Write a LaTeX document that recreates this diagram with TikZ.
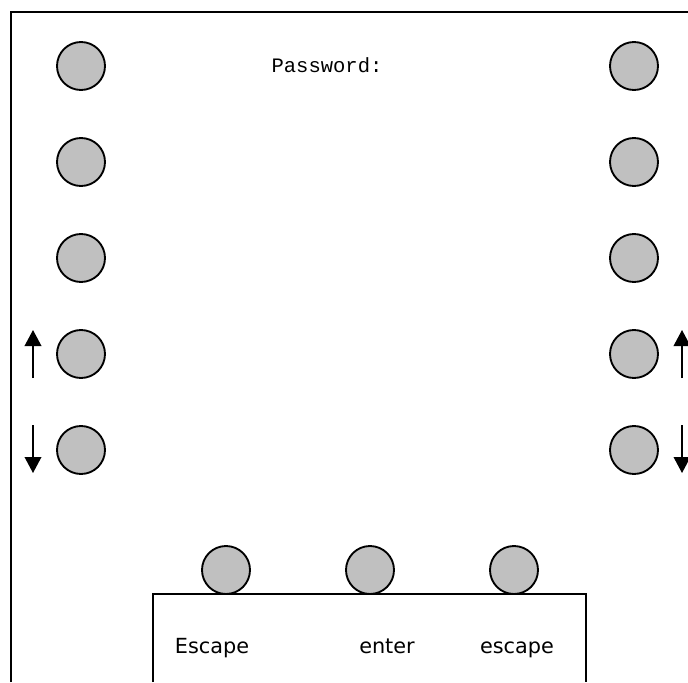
\documentclass[tikz,border=0pt]{standalone}
\usepackage{fontspec}
\setmainfont{DejaVu Sans}
\newfontfamily\monofont{Liberation Mono}
\usetikzlibrary{arrows.meta}
\definecolor{knobgray}{HTML}{C0C0C0}
\tikzset{
  knob/.style={circle,draw,fill=knobgray,line width=1.4pt,minimum size=36pt,inner sep=0pt},
  frame/.style={line width=1.1pt},
  arr/.style={line width=1.1pt,-{Triangle[width=12.5pt,length=12pt]}}
}
\begin{document}
\begin{tikzpicture}[x=0.75pt,y=-0.75pt,font=\fontsize{15.6}{18}\selectfont]
\useasboundingbox (0,0) rectangle (688,682);
\draw[frame] (11,682) -- (11,12) -- (688,12);
\foreach \i/\y in {1/66,2/162,3/258,4/354,5/450}{
  \node[knob] (l\i) at (81,\y) {};
  \node[knob] (r\i) at (634,\y) {};
}
\node[font=\monofont\fontsize{15.4}{18}\selectfont,anchor=base] (pw) at (327,72) {Password:};
\coordinate (lu0) at (33,378); \coordinate (lu1) at (33,330);
\coordinate (ld0) at (33,425); \coordinate (ld1) at (33,473);
\coordinate (ru0) at (682,378); \coordinate (ru1) at (682,330);
\coordinate (rd0) at (682,425); \coordinate (rd1) at (682,473);
\draw[arr] (lu0) -- (lu1);
\draw[arr] (ld0) -- (ld1);
\draw[arr] (ru0) -- (ru1);
\draw[arr] (rd0) -- (rd1);
\draw[frame] (153,682) -- (153,594) -- (586,594) -- (586,682);
\node[knob] (b1) at (226,570) {};
\node[knob] (b2) at (370,570) {};
\node[knob] (b3) at (514,570) {};
\node[anchor=base] (esc) at (212,653) {Escape};
\node[anchor=base] (ent) at (387,653) {enter};
\node[anchor=base] (esc2) at (517,653) {escape};
\end{tikzpicture}
\end{document}
